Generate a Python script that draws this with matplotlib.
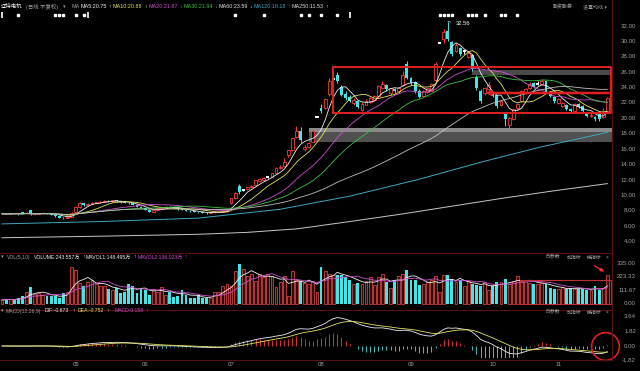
import matplotlib
matplotlib.use("Agg")
import matplotlib.pyplot as plt
import matplotlib.transforms as mtransforms
import numpy as np
import pandas as pd

plt.rcParams['font.family'] = ['Liberation Sans Narrow', 'Liberation Sans', 'Noto Sans CJK SC', 'DejaVu Sans']

W, H = 640, 371

# ---- daily bars ----
opens = [7.60, 7.62, 7.58, 7.66, 7.60, 7.78, 7.68, 8.05, 7.52, 7.60,
         7.65, 7.72, 7.66, 7.48, 7.30, 7.12, 7.05, 7.22, 7.80, 8.50,
         8.95, 8.70, 8.90, 9.05, 9.10, 9.20, 9.30, 9.22, 9.35, 9.25,
         9.08, 9.05, 8.95, 8.80, 8.55, 8.35, 8.10, 7.90, 8.05, 8.30,
         8.45, 8.55, 8.50, 8.40, 8.20, 8.10, 8.00, 7.95, 7.85, 7.80,
         7.72, 7.70, 7.78, 7.82, 7.90, 7.95, 8.95, 9.60, 11.20, 10.72,
         10.80, 11.05, 11.40, 11.90, 12.00, 12.40, 12.45, 12.90, 13.50, 13.80,
         15.20, 15.90, 17.60, 18.40, 16.00, 16.25, 17.00, 20.24, 21.40, 21.40,
         23.20, 25.10, 25.60, 24.10, 23.20, 22.80, 22.00, 22.20, 21.10, 21.80,
         22.10, 22.40, 22.90, 24.00, 24.30, 23.30, 23.80, 23.50, 24.40, 27.00,
         25.20, 24.70, 23.60, 22.90, 23.40, 23.60, 25.00, 29.81, 30.30, 31.30,
         29.90, 28.80, 29.10, 28.70, 28.00, 28.20, 25.40, 23.60, 23.30, 23.80,
         23.30, 23.00, 21.80, 20.60, 19.20, 19.90, 21.30, 22.20, 23.30, 23.90,
         24.60, 24.50, 24.50, 24.80, 23.30, 22.80, 22.00, 21.60, 21.80, 21.20,
         21.00, 21.90, 21.60, 20.60, 20.30, 20.20, 20.60, 20.20, 20.90]
highs = [7.70, 7.66, 7.72, 7.68, 7.64, 7.82, 7.80, 8.15, 7.66, 7.70,
         7.78, 7.75, 7.68, 7.50, 7.33, 7.18, 7.25, 7.80, 8.55, 9.10,
         9.05, 8.98, 9.12, 9.18, 9.25, 9.38, 9.35, 9.42, 9.40, 9.30,
         9.15, 9.10, 9.00, 8.85, 8.60, 8.40, 8.15, 8.10, 8.35, 8.50,
         8.62, 8.60, 8.55, 8.45, 8.25, 8.15, 8.05, 8.00, 7.90, 7.85,
         7.78, 7.82, 7.86, 7.95, 8.00, 8.15, 9.70, 10.45, 11.45, 10.80,
         11.15, 11.35, 12.05, 12.20, 12.40, 12.55, 12.95, 13.65, 13.90, 14.90,
         15.84, 17.42, 19.00, 18.90, 16.50, 16.90, 18.50, 20.24, 21.90, 22.70,
         25.30, 25.70, 26.00, 24.30, 23.50, 23.00, 22.60, 22.40, 22.10, 22.50,
         22.80, 23.00, 24.40, 24.80, 24.50, 24.00, 24.00, 24.10, 26.20, 27.40,
         25.40, 24.90, 23.80, 23.70, 24.00, 24.60, 27.30, 29.81, 31.60, 32.56,
         30.00, 29.80, 29.30, 28.90, 28.60, 28.30, 25.60, 23.80, 24.10, 24.70,
         23.40, 23.10, 22.40, 20.80, 20.20, 21.40, 22.00, 23.70, 24.00, 24.70,
         24.70, 24.80, 25.10, 25.00, 23.40, 22.90, 22.60, 22.10, 21.90, 21.40,
         22.00, 22.00, 21.70, 20.70, 20.70, 20.30, 20.70, 21.30, 22.80]
lows = [7.55, 7.52, 7.55, 7.55, 7.50, 7.62, 7.65, 7.48, 7.48, 7.55,
        7.60, 7.62, 7.45, 7.25, 7.08, 6.98, 7.02, 7.20, 7.78, 8.40,
        8.60, 8.65, 8.85, 8.95, 9.02, 9.12, 9.15, 9.18, 9.18, 9.05,
        8.98, 8.88, 8.75, 8.50, 8.30, 8.05, 7.85, 7.88, 8.00, 8.25,
        8.40, 8.45, 8.35, 8.15, 8.05, 7.95, 7.90, 7.80, 7.75, 7.68,
        7.64, 7.66, 7.72, 7.78, 7.85, 7.90, 8.90, 9.50, 10.20, 10.55,
        10.70, 10.95, 11.30, 11.80, 11.95, 12.30, 12.35, 12.85, 13.40, 13.70,
        15.00, 15.80, 17.40, 16.90, 15.80, 16.10, 16.90, 20.24, 20.70, 21.20,
        22.90, 24.70, 24.60, 22.90, 22.40, 22.10, 21.80, 21.30, 20.90, 21.70,
        22.00, 22.20, 22.80, 23.90, 23.60, 23.10, 23.30, 23.30, 24.30, 25.10,
        24.40, 23.30, 22.70, 22.80, 23.30, 23.50, 24.90, 29.81, 29.80, 30.00,
        28.10, 28.60, 28.10, 28.40, 27.80, 26.20, 23.70, 22.00, 23.10, 23.60,
        22.80, 21.40, 21.60, 19.00, 18.70, 19.80, 21.10, 22.10, 23.20, 23.80,
        23.90, 24.30, 24.40, 23.30, 22.80, 22.00, 21.90, 21.50, 21.10, 20.80,
        20.90, 21.40, 20.80, 20.20, 20.20, 19.70, 19.70, 20.10, 20.80]
closes = [7.62, 7.58, 7.66, 7.60, 7.55, 7.68, 7.74, 7.52, 7.60, 7.65,
          7.72, 7.68, 7.50, 7.31, 7.12, 7.05, 7.20, 7.75, 8.45, 8.95,
          8.70, 8.92, 9.05, 9.10, 9.20, 9.30, 9.22, 9.35, 9.25, 9.10,
          9.05, 8.95, 8.80, 8.55, 8.35, 8.10, 7.90, 8.05, 8.30, 8.45,
          8.55, 8.50, 8.40, 8.20, 8.10, 8.00, 7.95, 7.85, 7.80, 7.72,
          7.70, 7.78, 7.82, 7.90, 7.95, 8.10, 9.60, 10.30, 10.40, 10.72,
          11.10, 11.25, 12.00, 12.10, 12.30, 12.40, 12.85, 13.60, 13.75, 14.40,
          15.84, 17.42, 18.30, 17.20, 16.30, 16.80, 18.40, 20.24, 20.90, 22.50,
          24.90, 25.10, 24.80, 23.10, 22.60, 22.30, 22.40, 21.50, 21.90, 22.30,
          22.60, 22.90, 24.20, 24.50, 23.80, 23.90, 23.50, 24.00, 25.70, 25.30,
          24.60, 23.60, 22.80, 23.50, 23.90, 24.50, 27.10, 29.81, 31.20, 30.30,
          28.30, 29.50, 28.30, 28.70, 28.50, 26.40, 23.90, 22.20, 24.00, 24.40,
          22.90, 21.60, 22.20, 19.90, 20.00, 21.20, 21.90, 23.50, 23.80, 24.50,
          24.10, 24.50, 24.90, 23.40, 22.90, 22.20, 22.50, 22.00, 21.20, 20.90,
          21.90, 21.50, 20.90, 20.30, 20.50, 19.90, 19.90, 21.00, 22.60]
# volume, in 万 shares
volumes = [30, 35, 40, 30, 50, 60, 95, 135, 80, 90,
           75, 60, 65, 60, 45, 85, 100, 310, 285, 170,
           150, 180, 200, 160, 150, 145, 120, 115, 130, 90,
           100, 165, 150, 90, 130, 115, 75, 120, 100, 135,
           75, 95, 55, 65, 115, 75, 45, 45, 70, 45,
           50, 50, 100, 100, 150, 165, 150, 275, 330, 290,
           235, 250, 185, 245, 220, 250, 230, 140, 180, 235,
           60, 270, 195, 185, 175, 160, 190, 100, 310, 270,
           250, 240, 240, 240, 225, 195, 165, 170, 165, 185,
           220, 155, 225, 245, 180, 130, 195, 235, 245, 280,
           200, 195, 155, 160, 180, 195, 230, 100, 240, 240,
           205, 180, 195, 150, 185, 160, 155, 150, 180, 110,
           150, 180, 180, 205, 160, 185, 235, 185, 195, 175,
           165, 160, 170, 165, 130, 120, 120, 140, 120, 130,
           125, 120, 125, 115, 110, 150, 110, 130, 243.557]

ma120_days = [0, 24, 48, 68, 85, 102, 117, 131, 148]
ma120_vals = [6.30, 6.60, 7.05, 8.20, 9.90, 12.10, 14.30, 16.20, 18.18]
ma250_days = [0, 24, 48, 60, 72, 85, 98, 110, 122, 135, 148]
ma250_vals = [4.50, 4.70, 4.95, 5.20, 5.65, 6.60, 7.60, 8.60, 9.60, 10.60, 11.53]

month_names = ["05", "06", "07", "08", "09", "10", "11"]
month_days = [18, 35, 56, 78, 100, 120, 136]

price_ticks = [4, 6, 8, 10, 12, 14, 16, 18, 20, 22, 24, 26, 28, 30, 32]
vol_ticks = [0.0, 111.67, 223.33, 335.0]
macd_ticks = [-1.82, 0.0, 1.82, 3.64]

event_days = [4, 13, 14, 15, 18, 20, 57, 64, 73, 75, 78, 82, 107, 108, 109, 110, 114, 115, 116, 118, 122, 123, 126]
event_tall = [0, 21, 85]

# drawn annotations: (start day, low, high)
gray_bands = [(115, 25.6, 26.3, '#4a4a4a'), (75, 16.9, 18.2, '#505050'), (75, 18.2, 18.7, '#8a8a8a')]
box_main = (81, 20.7, 26.7)
arrow_level = 23.3
box_vol = (126.6, 195)

RED = '#ff3a3a'
CYAN = '#3ee8e8'
GRID = '#5a1010'
LBL = '#a0a0a0'
WHITE = '#f0f0f0'
YEL = '#e6e65a'
MAG = '#d050d0'
GRN = '#40c040'
BLU = '#40a8c0'

fig = plt.figure(figsize=(W / 100, H / 100), dpi=100, facecolor='black')


def box(x0, y0, x1, y1):
    return [x0 / W, 1 - y1 / H, (x1 - x0) / W, (y1 - y0) / H]


ax = fig.add_axes(box(0, 19, 612, 252))
axv = fig.add_axes(box(0, 262, 612, 306))
axm = fig.add_axes(box(0, 314, 612, 358))
for a in (ax, axv, axm):
    a.set_facecolor('black')
    a.set_xlim(-0.49, 149.14)
    a.axis('off')
ax.set_ylim(32 - (252 - 26) / 7.7, 32 + 7 / 7.7)
axv.set_ylim(-21, 348.6)
axm.set_ylim(-1.5, 4.0)

x = np.arange(len(closes))
o, hi, lo, c = map(np.array, (opens, highs, lows, closes))
up = c > o
dn = c < o
flat = c == o

# candles
ax.vlines(x[up], lo[up], hi[up], color=RED, lw=0.7, zorder=2)
ax.vlines(x[dn], lo[dn], hi[dn], color=CYAN, lw=0.7, zorder=2)
ax.vlines(x[flat], lo[flat], hi[flat], color='white', lw=0.7, zorder=2)
ax.bar(x[up], (c - o)[up], bottom=o[up], width=0.7, facecolor='black', edgecolor=RED, lw=0.6, zorder=3)
ax.bar(x[dn], (o - c)[dn], bottom=c[dn], width=0.7, color=CYAN, lw=0, zorder=3)
ax.hlines(c[flat], x[flat] - 0.4, x[flat] + 0.4, color='white', lw=1.4, zorder=3)

s = pd.Series(closes)
ma_cols = {5: WHITE, 10: YEL, 20: MAG, 30: GRN, 60: '#c0c0c0'}
for n, col in ma_cols.items():
    ax.plot(x, s.rolling(n, min_periods=1).mean(), color=col, lw=0.6, zorder=4)
ax.plot(ma120_days, ma120_vals, color=BLU, lw=0.7, zorder=4)
ax.plot(ma250_days, ma250_vals, color='#c8c8c8', lw=0.7, zorder=4)

# drawing-tool marks
for d0, y0, y1, col in gray_bands:
    ax.fill_between([d0, 149.14], y0, y1, color=col, lw=0, zorder=1)
d0, y0, y1 = box_main
ax.plot([d0, 149.0, 149.0, d0, d0], [y0, y0, y1, y1, y0], color='#e02020', lw=1.4, zorder=5)
ax.annotate('', xy=(117.5, arrow_level), xytext=(149.0, arrow_level),
            arrowprops=dict(arrowstyle='-|>', color='#e02020', lw=1.8, mutation_scale=6), zorder=5)
ax.annotate('32.56', xy=(109, 32.56), xytext=(111, 32.35), color='white', fontsize=4.2, va='center',
            arrowprops=dict(arrowstyle='-', color='white', lw=0.5))

# volume
v = np.array(volumes)
axv.bar(x[~dn], v[~dn], width=0.7, facecolor='#2e0c0c', edgecolor='#d04040', lw=0.6)
axv.bar(x[dn], v[dn], width=0.7, color=CYAN, lw=0)
vs = pd.Series(volumes)
axv.plot(x, vs.rolling(5, min_periods=1).mean(), color=WHITE, lw=0.6)
axv.plot(x, vs.rolling(10, min_periods=1).mean(), color=MAG, lw=0.6)
axv.plot([box_vol[0], 149.0, 149.0, box_vol[0], box_vol[0]], [0, 0, box_vol[1], box_vol[1], 0],
         color='#c03030', lw=0.8)
axv.annotate('', xy=(147.8, 255), xytext=(144.3, 330),
             arrowprops=dict(arrowstyle='-|>', color='#ff3030', lw=0.9, mutation_scale=5), annotation_clip=False)

# MACD
ema12 = s.ewm(span=12, adjust=False).mean()
ema26 = s.ewm(span=26, adjust=False).mean()
dif = ema12 - ema26
dea = dif.ewm(span=9, adjust=False).mean()
hist = 2 * (dif - dea)
pos = hist.values >= 0
axm.vlines(x[pos], 0, hist.values[pos], color=RED, lw=0.6)
axm.vlines(x[~pos], 0, hist.values[~pos], color=CYAN, lw=0.6)
axm.plot(x, dif, color=WHITE, lw=0.6)
axm.plot(x, dea, color=YEL, lw=0.6)
axm.plot([147.5], [0.0], marker='o', ms=20, mfc='none', mec='#e02020', mew=1.2, clip_on=False)

# right scale labels
for a, ticks in ((ax, price_ticks), (axv, vol_ticks), (axm, macd_ticks)):
    tr = mtransforms.blended_transform_factory(fig.transFigure, a.transData)
    for t in ticks:
        a.text(636 / W, t, f'{t:.2f}', transform=tr, ha='right', va='center', color=LBL, fontsize=4.4)

# month labels
trm = mtransforms.blended_transform_factory(axm.transData, fig.transFigure)
for name, d in zip(month_names, month_days):
    axm.text(d, 1 - 365 / H, name, transform=trm, ha='center', va='center', color=LBL, fontsize=4.4)

# event markers on the top row
tre = mtransforms.blended_transform_factory(ax.transData, fig.transFigure)
ax.plot(event_days, [1 - 15 / H] * len(event_days), 's', ms=1.6, color='white', transform=tre, clip_on=False)
ax.plot(event_tall, [1 - 15 / H] * len(event_tall), '|', ms=4, mew=1.2, color='white', transform=tre, clip_on=False)

# frame lines
for yy in (252.5, 309.5, 359.5):
    fig.add_artist(plt.Line2D([0, 612 / W], [1 - yy / H] * 2, color=GRID, lw=0.8))
fig.add_artist(plt.Line2D([612 / W] * 2, [1 - 359.5 / H, 1], color=GRID, lw=0.8))

renderer = fig.canvas.get_renderer()


def chain(py, items, size):
    # lay texts left to right, never letting one run into the next
    end = -10
    for px, s_, col in items:
        t = fig.text(max(px, end + 1.5) / W, 1 - py / H, s_, color=col, fontsize=size, va='center')
        end = t.get_window_extent(renderer=renderer).x1


chain(6.5, [(1, '辽特电机', WHITE), (26, '(日线 不复权)', LBL), (63, '▾', LBL), (71, 'MA', LBL),
            (80, 'MA5:20.75', WHITE), (106, '↑', WHITE), (112, 'MA10:20.88', YEL), (140, '↑', YEL),
            (147, 'MA20:21.87', MAG), (175, '↓', MAG), (182, 'MA30:21.94', GRN), (210, '↓', GRN),
            (217, 'MA60:23.59', '#e0e0e0'), (245, '↓', '#e0e0e0'), (251, 'MA120:18.18', BLU),
            (281, '↑', BLU), (287, 'MA250:11.53', '#e0e0e0'), (317, '↑', '#e0e0e0')], 3.9)
chain(6.5, [(553, '融资融券', LBL), (583, '设置均线 ▾', LBL)], 3.6)
chain(257, [(1, '▾', LBL), (7, 'VOL(5,10)', LBL), (34, 'VOLUME:243.557万', WHITE), (76, '↑', WHITE),
            (80, 'MAVOL1:148.495万', WHITE), (123, '↑', WHITE), (128, 'MAVOL2:136.023万', MAG),
            (176, '↑', MAG)], 3.7)
chain(311, [(1, '▾', LBL), (6, 'MACD(12,26,9)', LBL), (45, 'DIF:-0.673', WHITE), (72, '↑', WHITE),
            (78, 'DEA:-0.752', YEL), (106, '↑', YEL), (115, 'MACD:0.158', MAG), (143, '↑', MAG)], 3.7)
for yy in (257, 312):
    chain(yy, [(546, '改参数', LBL), (567, '加指标', LBL), (587, '换指标', LBL), (606, '×', LBL)], 3.5)

fig.savefig('out.png', dpi=100, facecolor='black')
